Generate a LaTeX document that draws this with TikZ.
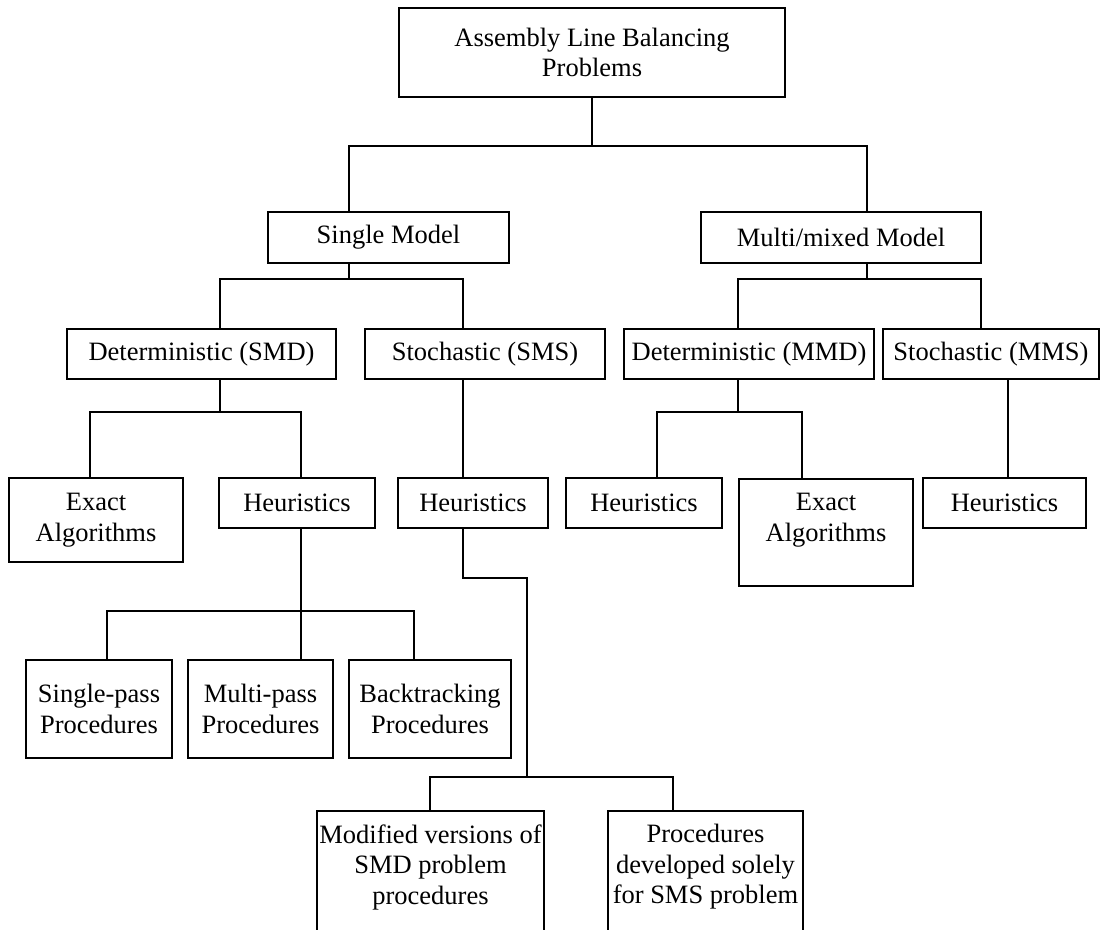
\documentclass[tikz,border=0pt]{standalone}
\usepackage{fontspec}
\setmainfont{Liberation Serif}
\newcommand\boxfont{\fontsize{26.5}{30.5}\selectfont}
\tikzset{
  box/.style={draw, line width=1.8pt, rectangle, inner sep=0pt, align=center, font=\boxfont},
  txt/.style={inner sep=0pt, align=center, font=\boxfont},
  conn/.style={line width=1.8pt}
}
\begin{document}
\begin{tikzpicture}[x=1pt,y=-1pt]
\useasboundingbox (0,0) rectangle (1100,929);
\clip (0,0) rectangle (1100,929);
% level 0
\node[box, minimum width=386pt, minimum height=89pt] (top) at (592,52.5) {Assembly Line Balancing\\Problems};
% level 1
\node[box, minimum width=241pt, minimum height=51pt] (single) at (388.5,237.5) {Single Model};
\node[box, minimum width=280pt, minimum height=51pt] (multi) at (841,237.5) {Multi/mixed Model};
% level 2
\node[box, minimum width=269pt, minimum height=50pt] (smd) at (201.5,354) {Deterministic (SMD)};
\node[box, minimum width=240pt, minimum height=50pt] (sms) at (485,354) {Stochastic (SMS)};
\node[box, minimum width=250pt, minimum height=50pt] (mmd) at (749,354) {Deterministic (MMD)};
\node[box, minimum width=216pt, minimum height=50pt] (mms) at (991,354) {Stochastic (MMS)};
% level 3
\node[box, minimum width=174pt, minimum height=84pt] (exact1) at (96,520) {Exact\\Algorithms};
\node[box, minimum width=156pt, minimum height=50pt] (heur1) at (297,503) {Heuristics};
\node[box, minimum width=150pt, minimum height=50pt] (heur2) at (473,503) {Heuristics};
\node[box, minimum width=156pt, minimum height=50pt] (heur3) at (644,503) {Heuristics};
\node[box, minimum width=174pt, minimum height=107pt, anchor=north] (exact2box) at (826,478) {};
\node[txt] (exact2) at (826,520) {Exact\\Algorithms};
\node[box, minimum width=163pt, minimum height=50pt] (heur4) at (1004.5,503) {Heuristics};
% level 4
\node[box, minimum width=146pt, minimum height=98pt] (sp) at (99,709) {Single-pass\\Procedures};
\node[box, minimum width=145pt, minimum height=98pt] (mp) at (260.5,709) {Multi-pass\\Procedures};
\node[box, minimum width=162pt, minimum height=98pt] (bt) at (430,709) {Backtracking\\Procedures};
% level 5
\node[box, minimum width=227pt, minimum height=160pt, anchor=north] (modbox) at (430.5,810) {};
\node[txt] (mod) at (430.5,867) {Modified versions of\\SMD problem\\procedures};
\node[box, minimum width=195pt, minimum height=160pt, anchor=north] (procbox) at (705.5,810) {};
\node[txt] (proc) at (705.5,867) {Procedures\\developed solely\\for SMS problem};
% junctions
\coordinate (t1) at (592,146);
\coordinate (t1L) at (349,146);
\coordinate (t1R) at (867,146);
\coordinate (s1) at (349,279);
\coordinate (s1L) at (220,279);
\coordinate (s1R) at (463,279);
\coordinate (m1) at (867,279);
\coordinate (m1L) at (738,279);
\coordinate (m1R) at (981,279);
\coordinate (d1) at (220,412);
\coordinate (d1L) at (90,412);
\coordinate (d1R) at (301,412);
\coordinate (md1) at (738,412);
\coordinate (md1L) at (657,412);
\coordinate (md1R) at (802,412);
\coordinate (sx) at (463,0);
\coordinate (msx) at (1008,0);
\coordinate (h1) at (301,611);
\coordinate (h1L) at (107,611);
\coordinate (h1R) at (414,611);
\coordinate (h2a) at (463,578);
\coordinate (h2b) at (527,578);
\coordinate (h2c) at (527,777);
\coordinate (h2L) at (430,777);
\coordinate (h2R) at (673,777);
% connectors
\draw[conn] (top.south) -- (t1);
\draw[conn] (single.north -| t1L) -- (t1L) -- (t1R) -- (multi.north -| t1R);
\draw[conn] (single.south -| s1) -- (s1);
\draw[conn] (smd.north -| s1L) -- (s1L) -- (s1R) -- (sms.north -| s1R);
\draw[conn] (multi.south -| m1) -- (m1);
\draw[conn] (mmd.north -| m1L) -- (m1L) -- (m1R) -- (mms.north -| m1R);
\draw[conn] (smd.south -| d1) -- (d1);
\draw[conn] (exact1.north -| d1L) -- (d1L) -- (d1R) -- (heur1.north -| d1R);
\draw[conn] (sms.south -| sx) -- (heur2.north -| sx);
\draw[conn] (mmd.south -| md1) -- (md1);
\draw[conn] (heur3.north -| md1L) -- (md1L) -- (md1R) -- (exact2box.north -| md1R);
\draw[conn] (mms.south -| msx) -- (heur4.north -| msx);
\draw[conn] (heur1.south -| h1) -- (mp.north -| h1);
\draw[conn] (sp.north -| h1L) -- (h1L) -- (h1R) -- (bt.north -| h1R);
\draw[conn] (heur2.south -| h2a) -- (h2a) -- (h2b) -- (h2c);
\draw[conn] (modbox.north -| h2L) -- (h2L) -- (h2R) -- (procbox.north -| h2R);
\end{tikzpicture}
\end{document}
